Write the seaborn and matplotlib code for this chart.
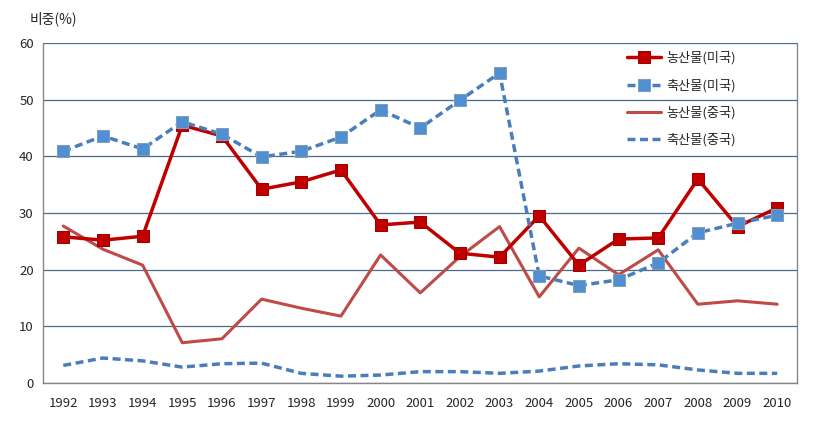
import pandas as pd
import matplotlib
matplotlib.use("Agg")
import matplotlib.pyplot as plt
import seaborn as sns

# data
years = [str(y) for y in range(1992, 2011)]
us_agri = [25.8, 25.2, 25.9, 45.5, 43.6, 34.2, 35.5, 37.6, 27.9, 28.4,
           22.9, 22.2, 29.5, 20.8, 25.4, 25.6, 36.0, 27.6, 30.9]
us_live = [40.9, 43.6, 41.3, 46.1, 43.9, 39.9, 40.9, 43.4, 48.2, 45.0,
           49.9, 54.7, 18.9, 17.2, 18.2, 21.2, 26.5, 28.2, 29.6]
cn_agri = [27.7, 23.6, 20.8, 7.1, 7.8, 14.8, 13.2, 11.8, 22.6, 15.9,
           22.3, 27.6, 15.2, 23.8, 19.1, 23.5, 13.9, 14.5, 13.9]
cn_live = [3.1, 4.4, 3.9, 2.8, 3.4, 3.5, 1.7, 1.2, 1.4, 2.0,
           2.0, 1.7, 2.1, 3.0, 3.4, 3.2, 2.3, 1.7, 1.7]
names = ["농산물(미국)", "축산물(미국)", "농산물(중국)", "축산물(중국)"]

sns.set_style("white")
plt.rcParams['font.family'] = ['Noto Sans CJK KR', 'DejaVu Sans']

pos = list(range(len(years)))
df = pd.DataFrame({"pos": pos, names[0]: us_agri, names[1]: us_live,
                   names[2]: cn_agri, names[3]: cn_live})

fig, ax = plt.subplots(figsize=(8.2, 4.26), dpi=100)
fig.subplots_adjust(left=0.053, right=0.972, top=0.899, bottom=0.101)

sns.lineplot(data=df, x="pos", y=names[0], ax=ax, color="#C00000", lw=2.5,
             marker="s", markersize=9, markerfacecolor="#C00000",
             markeredgecolor="#A00000", label=names[0], zorder=4)
sns.lineplot(data=df, x="pos", y=names[1], ax=ax, color="#4A7EBB", lw=2.5,
             dashes=(2.3, 1.3), marker="s", markersize=8.5, markerfacecolor="#4F8FD2",
             markeredgecolor="#7FA0B8", label=names[1], zorder=5)
sns.lineplot(data=df, x="pos", y=names[2], ax=ax, color="#BE4B48", lw=2.2,
             label=names[2], zorder=3)
sns.lineplot(data=df, x="pos", y=names[3], ax=ax, color="#4A7EBB", lw=2.5,
             dashes=(2.3, 1.3), label=names[3], zorder=3)

ax.set_xlim(-0.5, len(years) - 0.5)
ax.set_ylim(0, 60)
ax.set_yticks(range(0, 61, 10))
ax.yaxis.grid(True, color="#4D6A88", lw=0.9)
ax.set_axisbelow(True)

# ticks on category edges, labels centred
ax.set_xticks([p - 0.5 for p in pos] + [len(years) - 0.5])
ax.set_xticklabels([])
ax.set_xticks(pos, minor=True)
ax.set_xticklabels(years, minor=True, fontsize=9.5)
ax.tick_params(axis="x", which="major", length=5, color="#868686", direction="out")
ax.tick_params(axis="x", which="minor", length=0, pad=10)
ax.tick_params(axis="y", length=4, color="#868686", labelsize=9.5, pad=3, direction="out")
ax.set_xlabel("")
ax.set_ylabel("")

for side in ["left", "bottom", "right"]:
    ax.spines[side].set_color("#868686")
    ax.spines[side].set_linewidth(1)
ax.spines["top"].set_visible(False)

fig.text(0.036, 0.955, "비중(%)", fontsize=10, ha="left", va="center")

leg = ax.legend(loc="upper right", bbox_to_anchor=(0.935, 1.01), frameon=False,
                fontsize=9.5, handlelength=2.6, labelspacing=1.05, handletextpad=0.4)

plt.savefig("out.png", dpi=100)
